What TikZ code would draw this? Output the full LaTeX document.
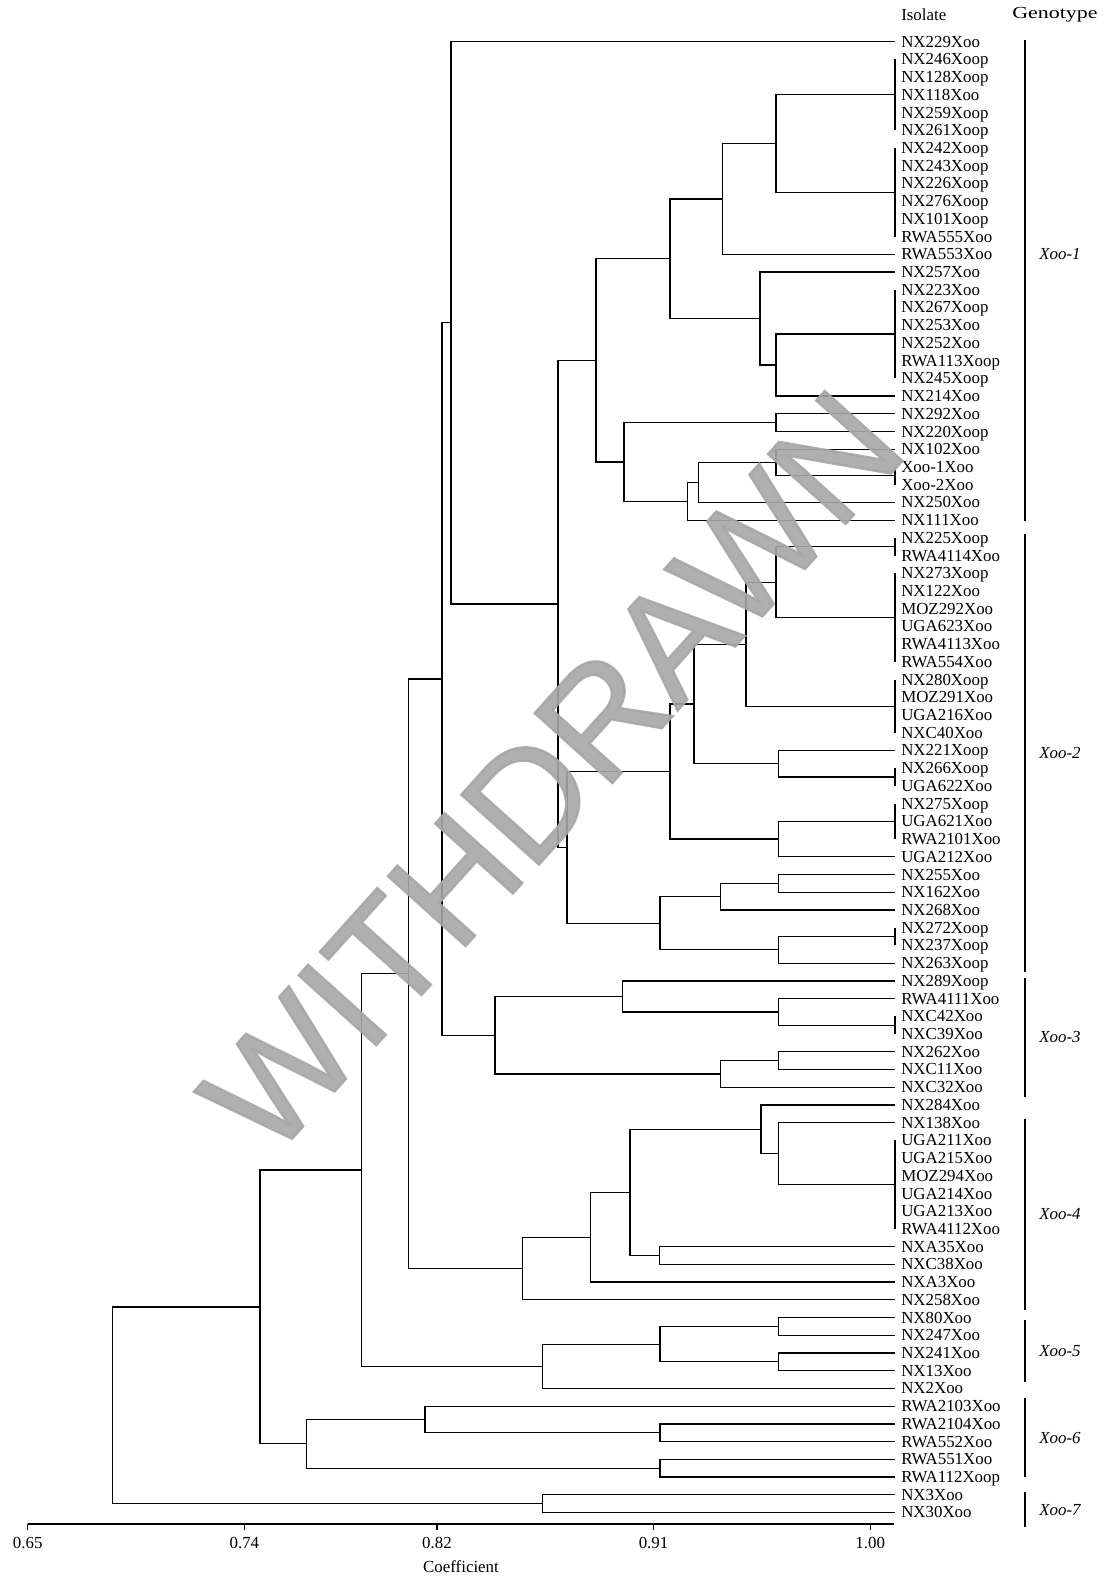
\documentclass[tikz,border=0pt]{standalone}
\usepackage{fontspec}
\setmainfont{Liberation Serif}
\newfontfamily\wmfont{Liberation Sans}[FakeBold=1.5]
\usetikzlibrary{calc}

% join two children at height #2 (x in px)
\newcommand{\dmerge}[4]{%
  \coordinate (#1x) at (#2,0);
  \coordinate (#1m) at ($(#3)!.5!(#4)$);
  \coordinate (#1) at (#1m -| #1x);
  \draw[branch] (#3) -| (#1) |- (#4);
}

\begin{document}
\begin{tikzpicture}[
    x=0.025cm, y=-0.025cm,
    branch/.style={line width=0.9pt, black},
    leaf/.style={anchor=west, inner sep=0pt, font=\fontsize{12}{12}\selectfont, text height=7.8pt, text depth=0pt},
    head/.style={anchor=west, inner sep=0pt, font=\fontsize{12}{12}\selectfont},
    geno/.style={inner sep=0pt, font=\fontsize{12}{12}\selectfont\itshape},
    gbar/.style={line width=0.9pt, black},
    tick/.style={inner sep=0pt, font=\fontsize{12}{12}\selectfont},
    wmark/.style={inner sep=0pt, text=gray!70, opacity=0.9, rotate=48, font=\wmfont\fontsize{108}{108}\selectfont}
]
    \useasboundingbox (0,0) rectangle (1107,1587);

    \node[head] (hiso) at (901,15) {Isolate};
    \node[head] (hgen) at (1012,15) {\scalebox{1.3}[1]{Genotype}};

    % isolates
    \foreach \lab [count=\i] in {NX229Xoo, NX246Xoop, NX128Xoop, NX118Xoo, NX259Xoop, NX261Xoop,
        NX242Xoop, NX243Xoop, NX226Xoop, NX276Xoop, NX101Xoop, RWA555Xoo, RWA553Xoo, NX257Xoo,
        NX223Xoo, NX267Xoop, NX253Xoo, NX252Xoo, RWA113Xoop, NX245Xoop, NX214Xoo, NX292Xoo,
        NX220Xoop, NX102Xoo, Xoo-1Xoo, Xoo-2Xoo, NX250Xoo, NX111Xoo, NX225Xoop, RWA4114Xoo,
        NX273Xoop, NX122Xoo, MOZ292Xoo, UGA623Xoo, RWA4113Xoo, RWA554Xoo, NX280Xoop, MOZ291Xoo,
        UGA216Xoo, NXC40Xoo, NX221Xoop, NX266Xoop, UGA622Xoo, NX275Xoop, UGA621Xoo, RWA2101Xoo,
        UGA212Xoo, NX255Xoo, NX162Xoo, NX268Xoo, NX272Xoop, NX237Xoop, NX263Xoop, NX289Xoop,
        RWA4111Xoo, NXC42Xoo, NXC39Xoo, NX262Xoo, NXC11Xoo, NXC32Xoo, NX284Xoo, NX138Xoo,
        UGA211Xoo, UGA215Xoo, MOZ294Xoo, UGA214Xoo, UGA213Xoo, RWA4112Xoo, NXA35Xoo, NXC38Xoo,
        NXA3Xoo, NX258Xoo, NX80Xoo, NX247Xoo, NX241Xoo, NX13Xoo, NX2Xoo, RWA2103Xoo,
        RWA2104Xoo, RWA552Xoo, RWA551Xoo, RWA112Xoop, NX3Xoo, NX30Xoo} {
        \coordinate (e\i) at (895, {41.7+(\i-1)*17.72});
        \node[leaf] (l\i) at (901, {41.7+(\i-1)*17.72}) {\lab};
    }

    % identical isolates
    \foreach \a/\b in {2/6, 7/12, 15/20, 25/26, 29/30, 31/36, 37/40, 42/43, 44/46, 51/52, 56/57, 63/68} {
        \draw[branch] (e\a) -- (e\b);
        \coordinate (g\a) at ($(e\a)!.5!(e\b)$);
    }

    % Xoo-1 and Xoo-2
    \dmerge{cA}{776}{g2}{g7}
    \dmerge{cB}{722.3}{cA}{e13}
    \dmerge{cH}{776}{g15}{e21}
    \dmerge{cG}{760}{e14}{cH}
    \dmerge{cC}{670}{cB}{cG}
    \dmerge{cJ}{776}{e22}{e23}
    \dmerge{cM}{776}{e24}{g25}
    \dmerge{cL}{698.3}{cM}{e27}
    \dmerge{cK}{687.7}{cL}{e28}
    \dmerge{cI}{624}{cJ}{cK}
    \dmerge{cD}{596}{cC}{cI}
    \dmerge{cS}{776}{g29}{g31}
    \dmerge{cR}{746}{cS}{g37}
    \dmerge{cT}{778.3}{e41}{g42}
    \dmerge{cQ}{694}{cR}{cT}
    \dmerge{cU}{778.3}{g44}{e47}
    \dmerge{cP}{670}{cQ}{cU}
    \dmerge{cX}{778.3}{e48}{e49}
    \dmerge{cW}{720.7}{cX}{e50}
    \dmerge{cY}{778.3}{g51}{e53}
    \dmerge{cV}{660}{cW}{cY}
    \dmerge{cO}{567}{cP}{cV}
    \dmerge{cN}{558}{cD}{cO}
    \dmerge{cE}{451}{e1}{cN}
    % Xoo-3
    \dmerge{cAB}{778.3}{e55}{g56}
    \dmerge{cAA}{622.3}{e54}{cAB}
    \dmerge{cAD}{778.3}{e58}{e59}
    \dmerge{cAC}{720.7}{cAD}{e60}
    \dmerge{cZ}{495}{cAA}{cAC}
    \dmerge{cF}{442}{cE}{cZ}
    % Xoo-4
    \dmerge{cAT}{778.3}{e62}{g63}
    \dmerge{cAS}{761}{e61}{cAT}
    \dmerge{cAU}{659.3}{e69}{e70}
    \dmerge{cAR}{630}{cAS}{cAU}
    \dmerge{cAQ}{590.7}{cAR}{e71}
    \dmerge{cAP}{522.3}{cAQ}{e72}
    \dmerge{cAE}{408.3}{cF}{cAP}
    % Xoo-5
    \dmerge{cAN}{778.3}{e73}{e74}
    \dmerge{cAO}{778.3}{e75}{e76}
    \dmerge{cAM}{660}{cAN}{cAO}
    \dmerge{cAL}{542.3}{cAM}{e77}
    \dmerge{cAF}{361.7}{cAE}{cAL}
    % Xoo-6
    \dmerge{cAJ}{660}{e79}{e80}
    \dmerge{cAI}{425}{e78}{cAJ}
    \dmerge{cAK}{660}{e81}{e82}
    \dmerge{cAH}{306.7}{cAI}{cAK}
    \dmerge{cAG}{260}{cAF}{cAH}
    % Xoo-7 and root
    \dmerge{cAV}{542.3}{e83}{e84}
    \dmerge{cAW}{112.3}{cAG}{cAV}

    % genotypes
    \foreach \t/\a/\b/\m in {1/40/521/254, 2/534/972/753, 3/978/1097/1037, 4/1119/1310/1214,
        5/1320/1382/1351, 6/1398/1477/1438, 7/1492/1527/1510} {
        \draw[gbar] (1025,\a) -- (1025,\b);
        \node[geno] (x\t) at (1060,\m) {Xoo-\t};
    }

    % axis
    \draw[branch] (27.7,1524) -- (894,1524);
    \foreach \v in {0.65,0.74,0.82,0.91,1.00} {
        \pgfmathsetmacro{\tx}{27.7+(\v-0.65)*2407}
        \draw[branch] (\tx,1524) -- (\tx,1530);
        \node[tick] (t\v) at (\tx,1543) {\v};
    }
    \node[tick] (coef) at (461,1567) {Coefficient};

    \node[wmark] (wm) at (552,772) {WITHDRAWN};
\end{tikzpicture}
\end{document}
